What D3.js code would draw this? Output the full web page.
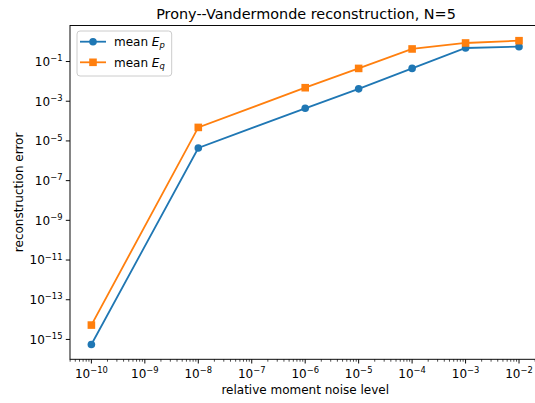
<!DOCTYPE html>
<html>
<head>
<meta charset="utf-8">
<script src="https://cdn.jsdelivr.net/npm/d3@7"></script>
<style>
  body { margin: 0; background: #fff; }
  text { font-family: "DejaVu Sans", sans-serif; fill: #000; }
</style>
</head>
<body>
<div id="chart"></div>
<script>
// data
const noise = [1e-10, 1e-8, 1e-6, 1e-5, 1e-4, 1e-3, 1e-2];
const meanEp = [5.6e-16, 4.4e-6, 4.4e-4, 4.2e-3, 4.5e-2, 0.48, 0.56];
const meanEq = [5.3e-15, 4.8e-5, 4.8e-3, 4.5e-2, 0.43, 0.86, 1.12];
const xTickExp = [-10, -9, -8, -7, -6, -5, -4, -3, -2];
const yTickExp = [-15, -13, -11, -9, -7, -5, -3, -1];

const W = 535, H = 403;
const plotL = 70, plotR = 540.4, plotT = 25.5, plotB = 359.3;
const fs = 12; // base font size

const svg = d3.select("#chart").append("svg")
    .attr("width", W)
    .attr("height", H);

const x = d3.scaleLog()
    .domain([Math.pow(10, -10.4), Math.pow(10, -1.6)])
    .range([plotL, plotR]);

const y = d3.scaleLog()
    .domain([Math.pow(10, -16.0), Math.pow(10, 0.815)])
    .range([plotB, plotT]);

// superscript tick label like matplotlib's 10^{-n}
function powLabel(sel, e) {
    sel.append("tspan").text("10");
    sel.append("tspan")
        .attr("dy", -4.8)
        .attr("font-size", (fs * 0.7) + "px")
        .text(String(e).replace("-", "\u2212"));
}

// x minor ticks
const minor = [];
for (let e = -11; e <= -2; e++) {
    for (let k = 2; k <= 9; k++) {
        const v = k * Math.pow(10, e);
        if (v > x.domain()[0] && v < x.domain()[1]) minor.push(v);
    }
}
svg.append("g").selectAll("line")
    .data(minor)
    .enter()
    .append("line")
    .attr("x1", d => x(d)).attr("x2", d => x(d))
    .attr("y1", plotB).attr("y2", plotB + 2.4)
    .attr("stroke", "#000")
    .attr("stroke-width", 0.7);

// x major ticks
const xt = svg.append("g").selectAll("g")
    .data(xTickExp)
    .enter()
    .append("g")
    .attr("transform", d => `translate(${x(Math.pow(10, d))},0)`);
xt.append("line")
    .attr("y1", plotB).attr("y2", plotB + 4.2)
    .attr("stroke", "#000")
    .attr("stroke-width", 0.96);
xt.append("text")
    .attr("y", 377.7)
    .attr("font-size", fs + "px")
    .attr("text-anchor", "middle")
    .each(function (d) { powLabel(d3.select(this), d); });

// y major ticks
const yt = svg.append("g").selectAll("g")
    .data(yTickExp)
    .enter()
    .append("g")
    .attr("transform", d => `translate(0,${y(Math.pow(10, d))})`);
yt.append("line")
    .attr("x1", plotL - 4.2).attr("x2", plotL)
    .attr("stroke", "#000")
    .attr("stroke-width", 0.96);
yt.append("text")
    .attr("x", plotL - 7.5)
    .attr("y", 4.4)
    .attr("font-size", fs + "px")
    .attr("text-anchor", "end")
    .each(function (d) { powLabel(d3.select(this), d); });

// series
const series = [
    {name: "p", values: meanEp, color: "#1f77b4", marker: "circle"},
    {name: "q", values: meanEq, color: "#ff7f0e", marker: "square"}
];

const line = d3.line()
    .x(d => x(d[0]))
    .y(d => y(d[1]));

function markerPath(s) {
    const sym = s.marker === "circle" ? d3.symbolCircle : d3.symbolSquare;
    const size = s.marker === "circle" ? Math.PI * 3.8 * 3.8 : 7.6 * 7.6;
    return d3.symbol().type(sym).size(size)();
}

series.forEach(function (s) {
    const pts = noise.map((n, i) => [n, s.values[i]]);
    svg.append("path")
        .datum(pts)
        .attr("d", line)
        .attr("fill", "none")
        .attr("stroke", s.color)
        .attr("stroke-width", 1.8);
    svg.append("g").selectAll("path")
        .data(pts)
        .enter()
        .append("path")
        .attr("d", markerPath(s))
        .attr("transform", d => `translate(${x(d[0])},${y(d[1])})`)
        .attr("fill", s.color);
});

// spines
svg.append("rect")
    .attr("x", plotL).attr("y", plotT)
    .attr("width", plotR - plotL).attr("height", plotB - plotT)
    .attr("fill", "none")
    .attr("stroke", "#000")
    .attr("stroke-width", 0.96);

// legend
const lg = svg.append("g");
lg.append("rect")
    .attr("x", 77).attr("y", 31)
    .attr("width", 94.7).attr("height", 45)
    .attr("rx", 3)
    .attr("fill", "#fff")
    .attr("fill-opacity", 0.8)
    .attr("stroke", "#ccc")
    .attr("stroke-width", 1);

series.forEach(function (s, i) {
    const ly = 41.7 + i * 20.6;
    lg.append("line")
        .attr("x1", 80).attr("x2", 106)
        .attr("y1", ly).attr("y2", ly)
        .attr("stroke", s.color)
        .attr("stroke-width", 1.8);
    lg.append("path")
        .attr("d", markerPath(s))
        .attr("transform", `translate(93,${ly})`)
        .attr("fill", s.color);
    const t = lg.append("text")
        .attr("x", 114)
        .attr("y", ly + 4.3)
        .attr("font-size", fs + "px");
    t.append("tspan").text("mean ");
    t.append("tspan").attr("font-style", "italic").text("E");
    t.append("tspan")
        .attr("font-style", "italic")
        .attr("font-size", (fs * 0.7) + "px")
        .attr("dy", 2.4)
        .text(s.name);
});

// labels
svg.append("text")
    .attr("x", 306)
    .attr("y", 19)
    .attr("text-anchor", "middle")
    .attr("font-size", "14.4px")
    .text("Prony--Vandermonde reconstruction, N=5");

svg.append("text")
    .attr("x", (plotL + plotR) / 2)
    .attr("y", 394)
    .attr("text-anchor", "middle")
    .attr("font-size", fs + "px")
    .text("relative moment noise level");

svg.append("text")
    .attr("transform", `translate(22.5,${(plotT + plotB) / 2}) rotate(-90)`)
    .attr("text-anchor", "middle")
    .attr("font-size", fs + "px")
    .text("reconstruction error");
</script>
</body>
</html>
